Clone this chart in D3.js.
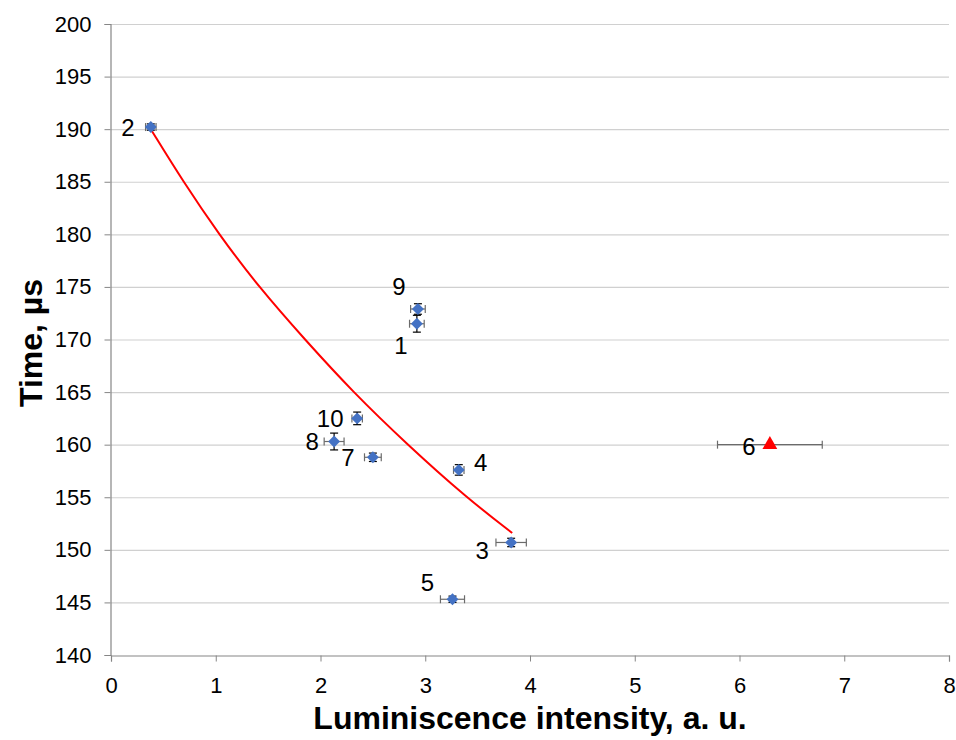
<!DOCTYPE html>
<html>
<head>
<meta charset="utf-8">
<script src="https://cdn.jsdelivr.net/npm/d3@7"></script>
<style>
  body { margin: 0; background: #fff; }
  svg { font-family: "Liberation Sans", Arial, sans-serif; }
</style>
</head>
<body>
<svg id="chart" width="956" height="740"></svg>
<script>
// samples
const ids    = ["1", "2", "3", "4", "5", "6", "7", "8", "9", "10"];
const xVals  = [2.92, 0.38, 3.82, 3.32, 3.26, 6.29, 2.50, 2.13, 2.93, 2.35];
const yVals  = [171.5, 190.2, 150.7, 157.6, 145.3, 160.0, 158.8, 160.3, 172.9, 162.5];
const xErr   = [0.07, 0.05, 0.145, 0.05, 0.115, 0.5, 0.08, 0.095, 0.07, 0.05];
const yErr   = [0.8, 0.3, 0.4, 0.5, 0.3, 0.0, 0.4, 0.8, 0.5, 0.6];
// trend curve
const trendX = [0.38, 0.69, 1.03, 1.41, 1.85, 2.31, 2.83, 3.39, 3.83];
const trendY = [190.0, 185, 180, 175, 170, 165, 160, 155, 151.6];

const xTicks = [0, 1, 2, 3, 4, 5, 6, 7, 8];
const yTicks = [140, 145, 150, 155, 160, 165, 170, 175, 180, 185, 190, 195, 200];

// label offsets (px) from each point
const labelOff = {
  "1": [-16, 30], "2": [-23, 9], "3": [-29, 17], "4": [22, 1], "5": [-25, -8],
  "6": [-21, 10], "7": [-25, 9], "8": [-22, 8], "9": [-19, -14], "10": [-27, 9]
};

const svg = d3.select("#chart");
const margin = {left: 111, right: 7, top: 24, bottom: 85};
const W = 956, H = 740;

const x = d3.scaleLinear().domain([0, 8]).range([margin.left, W - margin.right]);
const y = d3.scaleLinear().domain([140, 200]).range([H - margin.bottom, margin.top]);

// gridlines
svg.append("g")
  .selectAll("line")
  .data(yTicks.slice(1))
  .join("line")
  .attr("x1", x(0)).attr("x2", x(8))
  .attr("y1", d => y(d) + 0.5).attr("y2", d => y(d) + 0.5)
  .attr("stroke", "#d0d0d0").attr("stroke-width", 1.2);

// axes
const xAxis = svg.append("g")
  .attr("transform", `translate(0,${y(140) + 0.5})`)
  .call(d3.axisBottom(x).tickValues(xTicks).tickSize(6).tickPadding(16));
const yAxis = svg.append("g")
  .attr("transform", `translate(${x(0) - 0.5},0)`)
  .call(d3.axisLeft(y).tickValues(yTicks).tickSize(6).tickPadding(13));

[xAxis, yAxis].forEach(a => {
  a.select(".domain").attr("stroke", "#868686").attr("stroke-width", 1.2);
  a.selectAll(".tick line").attr("stroke", "#868686");
  a.selectAll(".tick text")
    .attr("font-family", "Liberation Sans, Arial, sans-serif")
    .attr("font-size", 22).attr("fill", "#000");
});

// axis titles
svg.append("text")
  .attr("x", 530).attr("y", 729)
  .attr("text-anchor", "middle")
  .attr("font-size", 32).attr("font-weight", "bold")
  .text("Luminiscence intensity, a. u.");
svg.append("text")
  .attr("transform", "translate(42,343) rotate(-90)")
  .attr("text-anchor", "middle")
  .attr("font-size", 32).attr("font-weight", "bold")
  .text("Time, µs");

const pts = ids.map((id, i) => ({id, x: xVals[i], y: yVals[i], ex: xErr[i], ey: yErr[i]}));

// trend line
const trend = trendX.map((d, i) => [d, trendY[i]]);
svg.append("path")
  .datum(trend)
  .attr("fill", "none")
  .attr("stroke", "#ff0000")
  .attr("stroke-width", 2)
  .attr("d", d3.line().x(d => x(d[0])).y(d => y(d[1])).curve(d3.curveBasis));

// error bars
const eb = svg.append("g");
pts.forEach(p => {
  const g = eb.append("g").attr("stroke-width", 1.2);
  if (p.ex > 0) {
    g.append("line").attr("stroke", "#6b6b6b")
      .attr("x1", x(p.x - p.ex)).attr("x2", x(p.x + p.ex))
      .attr("y1", y(p.y)).attr("y2", y(p.y));
    [p.x - p.ex, p.x + p.ex].forEach(v => g.append("line").attr("stroke", "#6b6b6b")
      .attr("x1", x(v)).attr("x2", x(v))
      .attr("y1", y(p.y) - 4).attr("y2", y(p.y) + 4));
  }
  if (p.ey > 0) {
    g.append("line").attr("stroke", "#000")
      .attr("x1", x(p.x)).attr("x2", x(p.x))
      .attr("y1", y(p.y - p.ey)).attr("y2", y(p.y + p.ey));
    [p.y - p.ey, p.y + p.ey].forEach(v => g.append("line").attr("stroke", "#000")
      .attr("x1", x(p.x) - 4).attr("x2", x(p.x) + 4)
      .attr("y1", y(v)).attr("y2", y(v)));
  }
});

// markers
svg.append("g")
  .selectAll("path")
  .data(pts)
  .join("path")
  .attr("transform", d => `translate(${x(d.x)},${y(d.y)})`)
  .attr("d", d => d.id === "6"
    ? d3.symbol(d3.symbolTriangle, 95)()
    : d3.symbol(d3.symbolDiamond2, 90)())
  .attr("fill", d => d.id === "6" ? "#ff0000" : "#4472c4");

// point labels
svg.append("g")
  .selectAll("text")
  .data(pts)
  .join("text")
  .attr("x", d => x(d.x) + labelOff[d.id][0])
  .attr("y", d => y(d.y) + labelOff[d.id][1])
  .attr("text-anchor", "middle")
  .attr("font-size", 24)
  .text(d => d.id);
</script>
</body>
</html>
